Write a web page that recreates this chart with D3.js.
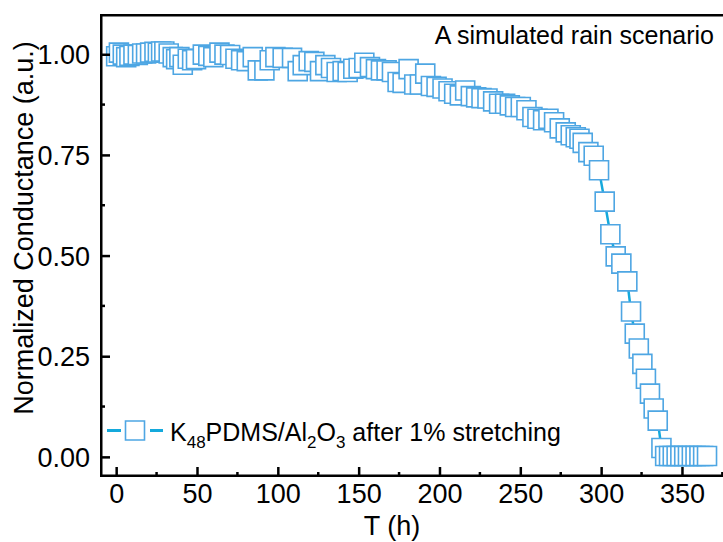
<!DOCTYPE html>
<html>
<head>
<meta charset="utf-8">
<script src="https://cdn.jsdelivr.net/npm/d3@7"></script>
<style>
body { margin: 0; background: #fff; }
text { font-family: "Liberation Sans", Arial, sans-serif; fill: #000; }
</style>
</head>
<body>
<svg id="chart" width="723" height="542"></svg>
<script>
// hours since start
var hours = [0, 1.7, 4.1, 6.2, 8.2, 10.7, 13.4, 16.1, 18.5, 21, 23.7, 25.8, 27.8, 29.8, 32.5, 35, 37.1, 39.1, 41.2, 44.3,
    47, 49.4, 53.6, 57, 60.1, 63.9, 67, 70.5, 73.8, 77.3, 80.8, 84.5, 87.6, 91.7, 95, 98.5, 103, 108.8, 112.3, 115.4,
    119.1, 122.6, 126.1, 129.4, 132.9, 136.4, 140.1, 143.2, 146.7, 150, 153.5, 157, 160.7, 163.8, 167.3, 170.6, 174.1, 177.2, 180.9, 184.4,
    187.9, 191.2, 194.7, 198.2, 201.9, 205.6, 209.1, 212.6, 215.9, 219.4, 222.7, 226, 229.7, 233.2, 236.9, 240.6, 243.5, 246.8, 250.3, 253.8,
    257.5, 260.6, 264.1, 267.4, 270.9, 274.4, 278.1, 281.2, 284.3, 286.6, 288.6, 292.1, 295.4, 298.7, 302.2, 305.7, 309, 312.5, 316.2, 318.5,
    320.8, 323.3, 325.5, 327.7, 330.2, 332.5, 335, 337.3, 339.6, 342, 344.3, 346.7, 349, 351.4, 353.7, 356.1, 358.4, 360.8, 363.1, 365.5];

// normalized conductance
var conductance = [0.995, 1.004, 0.999, 0.993, 0.996, 0.999, 0.998, 1.002, 1.002, 1.004, 1.006, 1.004, 1.007, 1.007, 1.002, 0.993, 0.988, 0.993, 0.974, 0.989,
    0.985, 0.988, 0.999, 0.996, 0.993, 1.004, 0.999, 0.998, 0.989, 0.985, 0.983, 0.993, 0.960, 0.960, 0.985, 0.993, 0.991, 0.991, 0.958, 0.973,
    0.983, 0.981, 0.958, 0.973, 0.966, 0.956, 0.958, 0.956, 0.964, 0.966, 0.979, 0.968, 0.963, 0.960, 0.960, 0.956, 0.931, 0.929, 0.963, 0.925,
    0.925, 0.952, 0.921, 0.919, 0.915, 0.908, 0.902, 0.898, 0.910, 0.896, 0.893, 0.891, 0.890, 0.883, 0.877, 0.877, 0.873, 0.869, 0.869, 0.861,
    0.844, 0.840, 0.836, 0.840, 0.831, 0.816, 0.806, 0.799, 0.794, 0.790, 0.780, 0.757, 0.748, 0.712, 0.634, 0.553, 0.498, 0.480, 0.436, 0.361,
    0.306, 0.269, 0.231, 0.194, 0.157, 0.120, 0.090, 0.022, 0.002, 0.002, 0.002, 0.002, 0.002, 0.002, 0.002, 0.002, 0.002, 0.002, 0.002, 0.002];

var xTicks = [0, 50, 100, 150, 200, 250, 300, 350];
var yTicks = [0, 0.25, 0.5, 0.75, 1.0];

var seriesName = ['K', '48', 'PDMS/Al', '2', 'O', '3', ' after 1% stretching'];
var scenarioLabel = 'A simulated rain scenario';

var markerColour = '#4ea6e3', lineColour = '#14a9dc';
var markerSize = 19;

var svg = d3.select('#chart');
var x = d3.scaleLinear().domain([-10, 376]).range([100, 724]);
var y = d3.scaleLinear().domain([-0.05, 1.1]).range([477, 14]);

var pts = hours.map((h, i) => ({ t: h, v: conductance[i] }));

//-------------------------------------------------------------------------------
// connecting line, then squares (white filled so each one covers the previous)

svg.append('path')
    .datum(pts)
    .attr('fill', 'none')
    .attr('stroke', lineColour)
    .attr('stroke-width', 2.5)
    .attr('d', d3.line().x(d => x(d.t)).y(d => y(d.v)));

var sq = d3.symbol().type(d3.symbolSquare).size(markerSize * markerSize);

svg.append('g').selectAll('path')
    .data(pts)
    .join('path')
    .attr('transform', d => `translate(${x(d.t)},${y(d.v)})`)
    .attr('d', sq)
    .attr('fill', '#fff')
    .attr('stroke', markerColour)
    .attr('stroke-width', 1.6);

//-------------------------------------------------------------------------------
// axes, ticks pointing inward

var xAxis = d3.axisBottom(x).tickValues(xTicks).tickSizeInner(-10).tickSizeOuter(0).tickPadding(7);
var gx = svg.append('g').attr('transform', 'translate(0,477)').call(xAxis);

var yAxis = d3.axisLeft(y).tickValues(yTicks).tickFormat(d3.format('.2f')).tickSizeInner(-10).tickSizeOuter(0).tickPadding(10);
var gy = svg.append('g').attr('transform', 'translate(100,0)').call(yAxis);

[gx, gy].forEach(g => {
    g.select('.domain').remove();
    g.selectAll('.tick line').attr('stroke', '#000').attr('stroke-width', 2.5);
    g.selectAll('.tick text').attr('font-size', 27).attr('font-family', '"Liberation Sans", Arial, sans-serif').attr('fill', '#000');
});
gx.selectAll('.tick text').attr('dy', '0.71em');
gy.selectAll('.tick text').attr('dy', '0.35em');

// minor ticks between the labelled ones
var xMinor = xTicks.map(t => t + 25).concat([-25]).filter(t => t > -10 && t < 376);
svg.append('g').selectAll('line')
    .data(xMinor)
    .join('line')
    .attr('x1', d => x(d)).attr('x2', d => x(d))
    .attr('y1', 477).attr('y2', 472)
    .attr('stroke', '#000').attr('stroke-width', 2.5);

var yMinor = yTicks.map(t => t + 0.125).filter(t => t < 1.1);
svg.append('g').selectAll('line')
    .data(yMinor)
    .join('line')
    .attr('x1', 100).attr('x2', 105)
    .attr('y1', d => y(d)).attr('y2', d => y(d))
    .attr('stroke', '#000').attr('stroke-width', 2.5);

// frame: left, bottom, top
svg.append('path')
    .attr('d', 'M724,15.25H101.25V475.75H724')
    .attr('fill', 'none')
    .attr('stroke', '#000')
    .attr('stroke-width', 2.5);

//-------------------------------------------------------------------------------
// titles

svg.append('text')
    .attr('x', 392).attr('y', 535)
    .attr('text-anchor', 'middle')
    .attr('font-size', 27)
    .text('T (h)');

svg.append('text')
    .attr('transform', 'translate(33,228) rotate(-90)')
    .attr('text-anchor', 'middle')
    .attr('font-size', 27)
    .text('Normalized Conductance (a.u.)');

svg.append('text')
    .attr('x', 714).attr('y', 44)
    .attr('text-anchor', 'end')
    .attr('font-size', 25)
    .text(scenarioLabel);

//-------------------------------------------------------------------------------
// legend

var lg = svg.append('g').attr('transform', 'translate(0,430.5)');
lg.append('line').attr('x1', 107).attr('x2', 121).attr('stroke', lineColour).attr('stroke-width', 3);
lg.append('line').attr('x1', 150).attr('x2', 163).attr('stroke', lineColour).attr('stroke-width', 3);
lg.append('path').attr('transform', 'translate(135,0)').attr('d', sq)
    .attr('fill', '#fff').attr('stroke', markerColour).attr('stroke-width', 1.6);

var lt = lg.append('text').attr('x', 170).attr('y', 10.5).attr('font-size', 25);
seriesName.forEach((s, i) => {
    var sub = (i % 2 == 1);
    lt.append('tspan')
        .attr('font-size', sub ? 17 : 25)
        .attr('dy', i == 0 ? 0 : (sub ? 7 : -7))
        .text(s);
});
</script>
</body>
</html>
